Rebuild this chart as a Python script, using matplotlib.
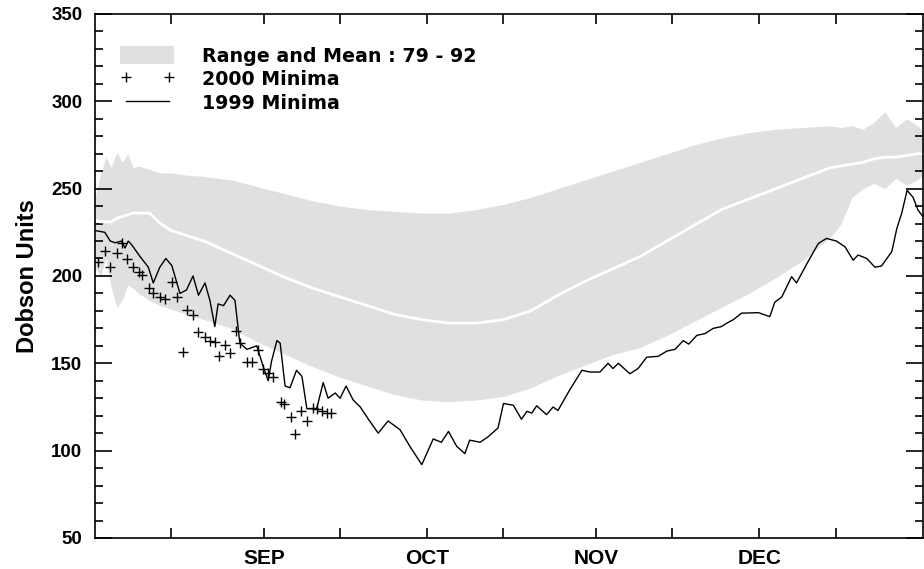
# -*- coding: utf-8 -*-
"""
Ozone minima over the southern spring, Dobson units
"""

# %% Import

import numpy as np
import matplotlib.pyplot as plt
from matplotlib.patches import Patch
from matplotlib.lines import Line2D


# %% Data (days counted from 1 August)

band_days = [0, 1, 2, 3, 4, 5, 6, 7, 8, 10, 12, 14, 16, 20, 25, 30, 35, 40, 45,
             50, 55, 60, 65, 70, 75, 80, 85, 90, 95, 100, 105, 110, 115, 120,
             125, 130, 135, 137, 139, 141, 143, 145, 147, 149, 151, 152]
band_upper = [244, 258, 268, 262, 271, 265, 270, 262, 263, 261, 259, 259, 258,
              257, 255, 251, 247, 243, 240, 238, 237, 236, 236, 238, 241, 245,
              250, 255, 260, 265, 270, 275, 279, 282, 284, 285, 286, 285, 286,
              284, 288, 294, 285, 290, 286, 283]
band_lower = [205, 200, 210, 193, 182, 186, 195, 193, 190, 186, 183, 181, 179,
              175, 170, 162, 155, 148, 142, 137, 132, 129, 128, 129, 131, 136,
              143, 149, 155, 159, 166, 174, 182, 190, 199, 209, 222, 230, 245,
              250, 253, 250, 256, 252, 255, 258]
band_mean = [232, 231, 231, 231, 233, 234, 235, 236, 236, 236, 230, 226, 224,
             220, 213, 206, 199, 193, 188, 183, 178, 175, 173, 173, 175, 180,
             189, 197, 204, 211, 220, 229, 238, 244, 250, 256, 262, 263, 264,
             265, 267, 268, 268, 269, 270, 270]

min1999_days = [0, 1.8, 2.8, 3.7, 4.9, 5.5, 6.1, 6.7, 8.3, 9.8, 10.7, 11.9, 13,
                14.1, 15.6, 16.8, 18, 19, 20.2, 21.1, 22, 22.6, 23.6, 24.8, 25.7,
                26.6, 27.9, 29.7, 30.9, 31.8, 32.4, 33.4, 34, 34.9, 35.8, 37, 38,
                38.9, 40.7, 41.9, 42.8, 44.1, 45, 46.1, 47.4, 48.7, 50.2, 52,
                53.8, 56, 57.8, 60, 61.5, 62.1, 63.6, 64.9, 66.4, 67.9, 68.8,
                70.7, 72.2, 74, 75, 76.8, 78.3, 79.3, 80.2, 81.1, 82.9, 84.1, 85,
                87.2, 89.4, 90.9, 92.7, 94.2, 95.1, 96.1, 98.2, 99.7, 101.3,
                103.4, 105, 106.5, 108, 109, 110.5, 112, 113.5, 115, 116, 117.2,
                118.7, 121.8, 123.9, 124.8, 126.1, 127.9, 128.8, 130.7, 132.8,
                134.3, 136.1, 137.7, 139.2, 140.1, 141.7, 143.2, 144.4, 146.3,
                147.2, 148.1, 149.1, 150.2, 151.1, 152]
min1999 = [226, 225, 220, 219, 220, 216, 220, 218, 211, 205, 196, 205, 210, 206,
           190, 192, 200, 189, 196, 186, 171, 184, 183, 189, 186, 161.5, 158,
           160, 148, 140, 151, 163, 161.5, 137, 136, 146, 142.5, 124, 124, 139,
           130, 133, 130, 137, 129, 125, 118, 110, 117, 112, 102.5, 92, 102.5,
           106.7, 104.8, 111, 102.5, 98.3, 106, 104.8, 108, 113, 127, 126, 118,
           122.5, 121.5, 125.7, 120.6, 125, 123, 135, 146, 145, 145, 150, 147,
           150, 144, 147, 153.5, 154, 157, 158, 163, 161, 166, 167, 170, 171,
           173, 175, 178.7, 179, 176.7, 185, 188, 199.6, 196, 207, 218.6, 221.5,
           220, 216.7, 209, 212, 210, 205, 205.7, 214, 227, 235.8, 249, 245,
           237.7, 234]

min2000_days = [0.6, 1.8, 2.8, 4, 4.9, 5.8, 6.9, 8, 8.6, 10, 10.7, 11.9, 12.9,
                14.1, 15, 16.1, 16.9, 18, 19, 20.2, 21.1, 22, 22.8, 23.9, 24.8,
                25.8, 26.7, 28, 28.8, 29.9, 30.8, 31.8, 32.7, 34.1, 34.7, 35.9,
                36.8, 37.9, 38.9, 40, 40.7, 41.7, 42.6, 43.3]
min2000 = [208, 214.5, 205, 213, 218.6, 209.7, 205, 202, 200.6, 193, 190, 188,
           187, 196.7, 188, 156.7, 180.6, 177.7, 168, 165, 163, 162, 154, 160.6,
           156, 168.7, 161.5, 150.5, 151, 157.7, 147, 144.7, 142, 127.6, 126.9,
           119, 109.7, 122.5, 117, 124.4, 123.8, 122.5, 121.5, 121.5]

month_days = [31, 61, 92, 122]
month_labels = ["SEP", "OCT", "NOV", "DEC"]
mid_days = [14, 45, 75, 106, 136]


# %% Plotting

band_col = "#e0e0e0"
tick_font = "Liberation Sans"

fig = plt.figure(figsize=(9.24, 5.69), dpi=100)
ax = fig.add_axes([0.1028, 0.0545, 0.896, 0.921])

ax.fill_between(band_days, band_lower, band_upper, color=band_col, lw=0)
ax.plot(band_days, band_mean, color="white", lw=2)
ax.plot(min1999_days, min1999, color="black", lw=1)
ax.plot(min2000_days, min2000, "k+", ms=7, mew=1)

ax.set_xlim(0, 152)
ax.set_ylim(50, 350)

ax.set_xticks(month_days)
ax.set_xticklabels(month_labels, fontsize=15, fontweight="bold", family=tick_font)
ax.set_xticks(mid_days, minor=True)
ax.set_yticks(np.arange(50, 351, 50))
ax.set_yticks(np.arange(50, 351, 10), minor=True)
for lab in ax.get_yticklabels():
    lab.set_fontsize(13.5)
    lab.set_fontweight("bold")
    lab.set_family(tick_font)

ax.tick_params(axis="both", which="both", direction="in", top=True, right=True,
               width=1.2, color="black")
ax.tick_params(axis="x", which="both", length=7, pad=8)
ax.tick_params(axis="y", which="major", length=12, pad=9)
ax.tick_params(axis="y", which="minor", length=6)
for sp in ax.spines.values():
    sp.set_linewidth(1.2)

ax.set_ylabel("Dobson Units", fontsize=17, fontweight="bold", family=tick_font)
ax.yaxis.set_label_coords(-0.068, 0.5)

handles = [Patch(facecolor=band_col, edgecolor="none"),
           Line2D([], [], color="black", marker="+", ls="none", ms=7),
           Line2D([], [], color="black", lw=1)]
labels = ["Range and Mean : 79 - 92", "2000 Minima", "1999 Minima"]
ax.legend(handles, labels, loc="upper left", frameon=False, numpoints=2,
          handlelength=2.85, handleheight=1.1, handletextpad=1.45,
          labelspacing=0.2, borderaxespad=0.0, bbox_to_anchor=(0.021, 0.953),
          prop={"family": "DejaVu Sans", "weight": "bold", "size": 13.7})

plt.savefig("out.png", dpi=100)
